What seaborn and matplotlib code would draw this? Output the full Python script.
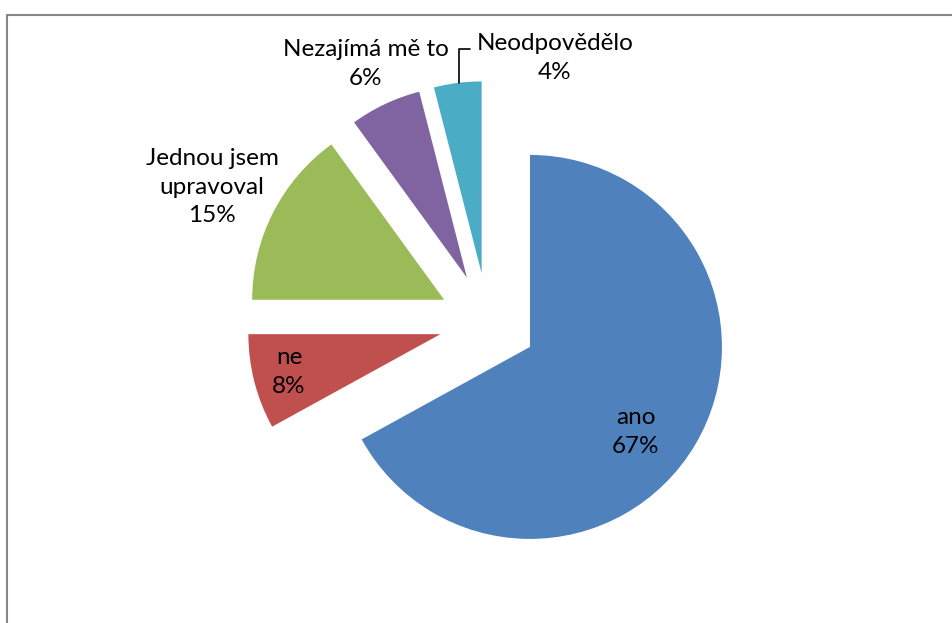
import numpy as np
import matplotlib
matplotlib.use("Agg")
import matplotlib.pyplot as plt
from matplotlib.lines import Line2D
import seaborn as sns

# ---- data ----
categories = ["ano", "ne", "Jednou jsem\nupravoval", "Nezajímá mě to", "Neodpovědělo"]
values = [67, 8, 15, 6, 4]
colors = ["#4F81BD", "#C0504D", "#9BBB59", "#8064A2", "#4BACC6"]

sns.set_theme(style="white")
plt.rcParams["font.family"] = ["Lato", "DejaVu Sans"]

W, H = 953, 623
fig = plt.figure(figsize=(W / 100, H / 100), dpi=100)
ax = fig.add_axes([0, 0, 1, 1])

cx, cy, R = 487.8, H - 322, 192
explode = [0.255 * R] * len(values)   # matplotlib explode is in data units
wedges, _ = ax.pie(values, colors=colors, startangle=90, counterclock=False,
                   explode=explode, center=(cx, cy), radius=R,
                   wedgeprops=dict(linewidth=0), frame=True)
ax.set_xlim(0, W)
ax.set_ylim(0, H)
ax.axis("off")

# label positions (image pixel coords)
label_pos = [(636, 432), (289, 372), (212, 187), (366, 64), (555, 58)]
total = sum(values)
for cat, v, (x, y) in zip(categories, values, label_pos):
    ax.text(x, H - y, f"{cat}\n{round(100 * v / total)}%", ha="center", va="center",
            fontsize=17.5, color="black", linespacing=1.45, zorder=5)

# leader line for "Neodpovědělo"
ax.plot([459, 459, 470], [H - 83, H - 49, H - 49], color="black", lw=1.2)

# chart border (top and left)
fig.add_artist(Line2D([7 / W, 1], [1 - 14.5 / H, 1 - 14.5 / H], color="#868686", lw=1.5,
                      transform=fig.transFigure))
fig.add_artist(Line2D([7 / W, 7 / W], [0, 1 - 14.5 / H], color="#868686", lw=1.5,
                      transform=fig.transFigure))

fig.savefig("out.png", dpi=100)
